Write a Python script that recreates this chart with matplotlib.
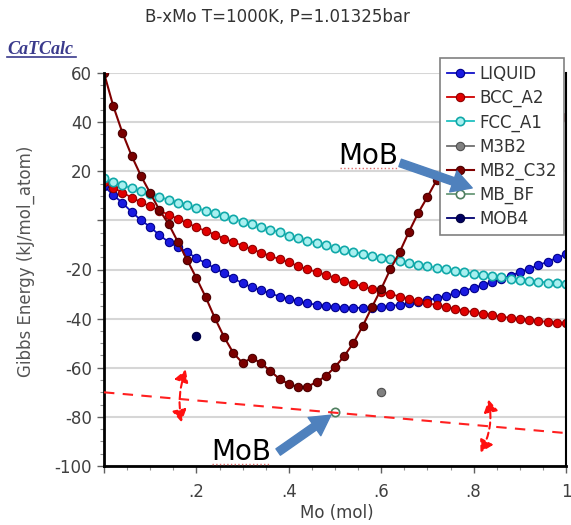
import numpy as np
import matplotlib
matplotlib.use("Agg")
import matplotlib.pyplot as plt
from matplotlib.lines import Line2D
from matplotlib.patches import FancyArrowPatch
from matplotlib.ticker import MultipleLocator, FixedLocator

##~~~~~~~~ Data ~~~~~~~~
mo = np.round(np.arange(51) * 0.02, 2)	# Mo mole fraction grid

liquid = [14.0, 10.3, 7.1, 3.4, 0.1, -2.7, -6.0, -8.8, -10.9, -12.9,
          -15.4, -17.4, -19.5, -21.5, -23.6, -25.6, -27.2, -28.4, -29.7, -31.0,
          -32.0, -33.0, -33.8, -34.3, -34.8, -35.2, -35.5, -35.6, -35.6, -35.5,
          -35.2, -34.8, -34.4, -33.8, -33.2, -32.5, -31.6, -30.7, -29.7, -28.6,
          -27.5, -26.3, -25.1, -23.8, -22.5, -21.1, -19.7, -18.3, -16.8, -15.3,
          -13.8]
bcc_a2 = [15.5, 13.3, 11.3, 9.3, 7.4, 5.7, 4.0, 2.3, 0.6, -1.1,
          -2.8, -4.3, -5.8, -7.4, -8.9, -10.3, -11.8, -13.1, -14.5, -15.8,
          -17.1, -18.6, -19.9, -21.0, -22.2, -23.4, -24.6, -25.8, -26.9, -28.0,
          -29.0, -30.0, -31.0, -31.9, -32.8, -33.7, -34.5, -35.3, -36.0, -36.7,
          -37.4, -38.0, -38.6, -39.2, -39.7, -40.2, -40.6, -41.0, -41.3, -41.6,
          -41.8]
fcc_a1 = [17.2, 15.5, 14.3, 13.1, 11.9, 10.7, 9.5, 8.4, 7.2, 6.1,
          5.0, 3.9, 2.8, 1.7, 0.6, -0.5, -1.6, -2.7, -3.8, -4.8,
          -6.2, -7.3, -8.3, -9.3, -10.2, -11.1, -12.0, -12.8, -13.6, -14.4,
          -15.2, -15.9, -16.6, -17.3, -18.0, -18.7, -19.3, -19.9, -20.5, -21.1,
          -21.7, -22.2, -22.7, -23.2, -23.7, -24.1, -24.5, -24.9, -25.3, -25.6,
          -25.9]
mb2_c32 = [60.0, 46.6, 35.6, 26.2, 18.1, 11.1, 4.2, -1.5, -8.8, -16.1,
           -23.5, -31.2, -39.8, -47.5, -54.0, -58.1, -56.0, -58.1, -61.3, -64.6,
           -66.6, -67.8, -67.8, -65.8, -63.4, -59.7, -55.2, -49.9, -43.0, -35.3,
           -27.9, -19.8, -12.9, -4.7, 3.0, 9.5, 16.4, 23.5, 30.5, 37.0,
           43.0, 48.0, 52.0, 55.0, 57.0, 57.5, 56.0, 53.0, 49.0, 45.5,
           42.0]
m3b2_x, m3b2_g = [0.6], [-70.0]
mbbf_x, mbbf_g = [0.5], [-78.0]
mob4_x, mob4_g = [0.2], [-47.0]

tangent_x = [0.0, 1.0]		# common tangent through MB_BF
tangent_g = [-70.0, -86.6]

yticks = [60, 40, 20, 0, -20, -40, -60, -80, -100]
ytick_labels = ['60', '40', '20', '', '-20', '-40', '-60', '-80', '-100']
xticks = [0, 0.2, 0.4, 0.6, 0.8, 1.0]
xtick_labels = ['', '.2', '.4', '.6', '.8', '1']
##~~~~~~~~~~~~~~~~~~~~~~~~~~~~~~~~~~~~~~~~~

txt = '#404040'
fig = plt.figure(figsize=(5.71, 5.25), dpi=100)
ax = fig.add_axes([104/571, 1-466/525, 462/571, 393/525])

ms = 6
ax.plot(mo, liquid, '-o', color='#1010c8', lw=1.3, ms=ms, mfc='#1a1ae0', mec='#00008a', mew=0.8, label='LIQUID')
ax.plot(mo, bcc_a2, '-o', color='#d00000', lw=1.3, ms=ms, mfc='#e00000', mec='#900000', mew=0.8, label='BCC_A2')
ax.plot(mo, fcc_a1, '-o', color='#20c0c0', lw=1.3, ms=ms, mfc='#a8f0f0', mec='#10a8a8', mew=1.2, label='FCC_A1')
ax.plot(m3b2_x, m3b2_g, '-o', color='#707070', lw=1.3, ms=ms, mfc='#808080', mec='#505050', mew=0.8, label='M3B2')
ax.plot(mo, mb2_c32, '-o', color='#800000', lw=1.5, ms=ms, mfc='#7a0000', mec='#4a0000', mew=0.8, label='MB2_C32')
ax.plot(mbbf_x, mbbf_g, '-o', color='#6a9a7a', lw=1.3, ms=ms, mfc='white', mec='#4f7f5f', mew=1.2, label='MB_BF')
ax.plot(mob4_x, mob4_g, '-o', color='#000070', lw=1.3, ms=ms, mfc='#000060', mec='#000040', mew=0.8, label='MOB4')

ax.plot(tangent_x, tangent_g, '--', color='#ff2020', lw=1.5, dashes=(5, 4), zorder=4)

# curved double arrows (rotation of the tangent)
for (p1, p2, rad) in [((0.179, -59.7), (0.169, -83.3), 0.15),
                      ((0.831, -71.9), (0.812, -95.5), -0.2)]:
    arr = FancyArrowPatch(p1, p2, connectionstyle='arc3,rad=%s' % rad,
                          arrowstyle='<|-|>,head_length=0.6,head_width=0.35',
                          color='#ff1010', lw=1.5, linestyle=(0, (3, 2)),
                          mutation_scale=12, zorder=4)
    ax.add_patch(arr)

ax.set_xlim(0, 1)
ax.set_ylim(-100, 60)
ax.yaxis.set_major_locator(FixedLocator(yticks))
ax.set_yticklabels(ytick_labels)
ax.yaxis.set_minor_locator(MultipleLocator(5))
ax.xaxis.set_major_locator(FixedLocator(xticks))
ax.set_xticklabels(xtick_labels)
ax.xaxis.set_minor_locator(MultipleLocator(0.05))
ax.tick_params(which='major', length=5, width=1, color='#606060', labelsize=12, labelcolor=txt)
ax.tick_params(axis='x', which='major', pad=7)
ax.tick_params(which='minor', length=3, width=0.8, color='#909090')
ax.grid(axis='y', which='major', color='#d6d6d6', lw=1.5)
ax.set_axisbelow(True)

for s in ['left', 'bottom']:
    ax.spines[s].set_linewidth(2)
    ax.spines[s].set_color('black')
ax.spines['right'].set_linewidth(1.5)
ax.spines['right'].set_color('black')
ax.spines['top'].set_visible(False)

ax.set_xlabel('Mo (mol)', fontsize=12, color=txt)
ax.xaxis.set_label_coords(0.505, -0.097)
ax.set_ylabel('Gibbs Energy (kJ/mol_atom)', fontsize=12, color='#555555')
ax.yaxis.set_label_coords(-0.15, 0.52)

leg = ax.legend(loc='upper left', bbox_to_anchor=(0.727, 1.038), borderaxespad=0,
                fontsize=12, numpoints=1, handlelength=1.6, handletextpad=0.35,
                labelspacing=0.36, borderpad=0.42, fancybox=False, framealpha=1)
leg.get_frame().set_edgecolor('#808080')
leg.get_frame().set_linewidth(1.2)
for t in leg.get_texts():
    t.set_color('#333333')

# MoB callouts
blue = '#4f81bd'
for (tip, tail, pos, ul) in [((0.797, 13.2), (0.641, 23.4), (0.571, 26.2), (0.511, 0.634, 21.3)),
                            ((0.491, -79.3), (0.377, -94.3), (0.297, -94.3), (0.234, 0.359, -99.2))]:
    ax.annotate('', xy=tip, xytext=tail,
                arrowprops=dict(arrowstyle='simple,head_length=0.9,head_width=1.0,tail_width=0.35',
                                color=blue, mutation_scale=16, shrinkA=0, shrinkB=0),
                zorder=10, annotation_clip=False)
    ax.text(pos[0], pos[1], 'MoB', fontsize=20, ha='center', va='center', color='black', zorder=10)
    ax.plot([ul[0], ul[1]], [ul[2], ul[2]], ':', color='#e07070', lw=1, zorder=10, clip_on=False)

fig.text(277/571, 1-17/525, 'B-xMo T=1000K, P=1.01325bar', ha='center', va='center',
         fontsize=12, color='#333333')
fig.text(7/571, 1-49/525, 'CaTCalc', ha='left', va='center', fontsize=13,
         family='Liberation Serif', style='italic', weight='bold', color='#3a3a8c')
fig.add_artist(Line2D([7/571, 76/571], [1-57/525, 1-57/525], color='#3a3a8c', lw=1.2))

fig.savefig('out.png', dpi=100)
